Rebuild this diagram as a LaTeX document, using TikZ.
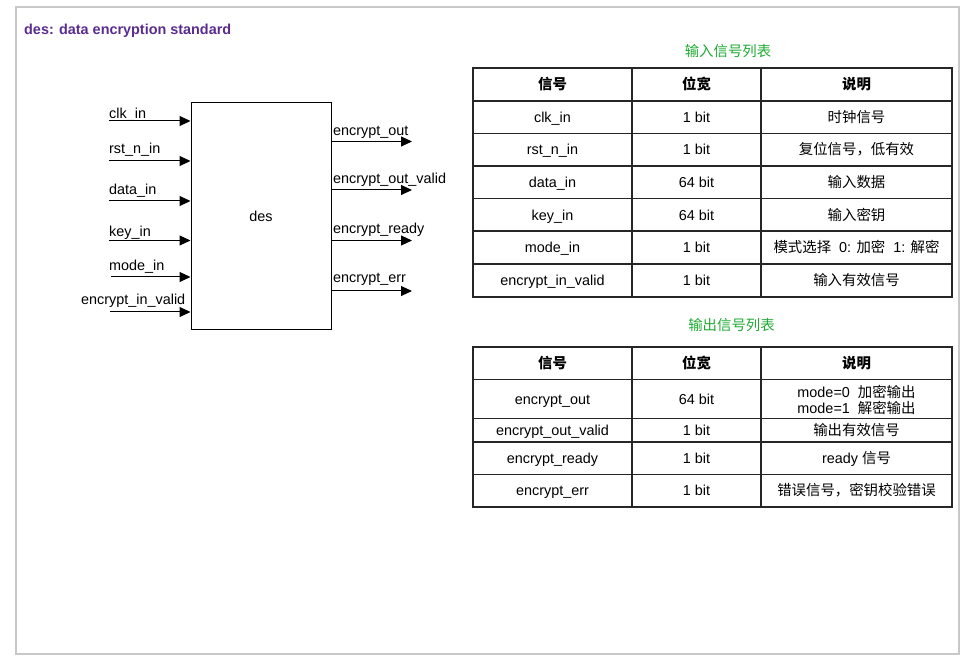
\documentclass[tikz,border=0pt]{standalone}
\usepackage{fontspec}
\setmainfont{Liberation Sans}
\newfontfamily\cjk{Noto Sans CJK SC}
\usetikzlibrary{arrows.meta}
\definecolor{titlepurple}{RGB}{91,44,143}
\definecolor{tgreen}{RGB}{30,170,50}
\definecolor{framegray}{RGB}{200,200,200}
\newcommand{\zh}[1]{{\cjk #1}}
\tikzset{
  basetxt/.style={font=\fontsize{14.4}{16.3}\selectfont, inner sep=0pt},
  txt/.style={basetxt, text height=13.3pt, text depth=3pt},
  sig/.style={line width=1pt, -{Triangle[length=11pt,width=10pt]}},
  lbl/.style={txt, anchor=west},
  cell/.style={txt, align=center},
  twoline/.style={basetxt, align=center},
  grid/.style={line width=1.2pt, black!85},
  blockbox/.style={draw, line width=1pt, minimum width=140pt, minimum height=227pt, txt},
}
\begin{document}
\begin{tikzpicture}[x=1pt,y=-1pt]
\useasboundingbox (0,0) rectangle (975,668);
\draw[framegray, line width=1.2pt] (16,7) rectangle (959,654);
\node[txt, anchor=west, font=\fontsize{14.4}{16}\selectfont\bfseries, text=titlepurple] (title) at (24,29.5) {des: data encryption standard};

% block
\node[blockbox] (des) at (261,216.5) {des};

% inputs
\coordinate (i1) at (109,121);
\coordinate (i2) at (109,161);
\coordinate (i3) at (109,201);
\coordinate (i4) at (109,240.5);
\coordinate (i5) at (111,277);
\coordinate (i6) at (110,312);
\foreach \c in {i1,i2,i3,i4,i5,i6} \draw[sig] (\c) -- (\c -| des.west);
\node[lbl] (l1) at (109,113) {clk\_in};
\node[lbl] (l2) at (109,148.5) {rst\_n\_in};
\node[lbl] (l3) at (109,189) {data\_in};
\node[lbl] (l4) at (109,231.5) {key\_in};
\node[lbl] (l5) at (109,265) {mode\_in};
\node[lbl] (l6) at (81,299) {encrypt\_in\_valid};

% outputs
\coordinate (o1) at (412,141.5);
\coordinate (o2) at (412,190);
\coordinate (o3) at (412,240.5);
\coordinate (o4) at (412,291);
\foreach \c in {o1,o2,o3,o4} \draw[sig] (\c -| des.east) -- (\c);
\node[lbl] (m1) at (333,130) {encrypt\_out};
\node[lbl] (m2) at (333,178) {encrypt\_out\_valid};
\node[lbl] (m3) at (333,228) {encrypt\_ready};
\node[lbl] (m4) at (333,277.5) {encrypt\_err};

% input table
\node[txt, text=tgreen] (t1) at (728,51) {\zh{输入信号列表}};
\draw[grid] (473,68) rectangle (952,297);
\foreach \x in {632,761} \draw[grid] (\x,68) -- (\x,297);
\foreach \y in {101,133.5,166,198.5,231,264} \draw[grid] (473,\y) -- (952,\y);
\node[cell] (a0) at (552.5,84.5) {\cjk\bfseries 信号};
\node[cell] (b0) at (696.5,84.5) {\cjk\bfseries 位宽};
\node[cell] (c0) at (856.5,84.5) {\cjk\bfseries 说明};
\node[cell] (a1) at (552.5,117) {clk\_in};
\node[cell] (b1) at (696.5,117) {1 bit};
\node[cell] (c1) at (856.5,117) {\zh{时钟信号}};
\node[cell] (a2) at (552.5,149.5) {rst\_n\_in};
\node[cell] (b2) at (696.5,149.5) {1 bit};
\node[cell] (c2) at (856.5,149.5) {\zh{复位信号，低有效}};
\node[cell] (a3) at (552.5,182) {data\_in};
\node[cell] (b3) at (696.5,182) {64 bit};
\node[cell] (c3) at (856.5,182) {\zh{输入数据}};
\node[cell] (a4) at (552.5,215) {key\_in};
\node[cell] (b4) at (696.5,215) {64 bit};
\node[cell] (c4) at (856.5,215) {\zh{输入密钥}};
\node[cell] (a5) at (552.5,247.5) {mode\_in};
\node[cell] (b5) at (696.5,247.5) {1 bit};
\node[cell] (c5) at (856.5,247.5) {\zh{模式选择}\ \ 0: \zh{加密}\ \ 1: \zh{解密}};
\node[cell] (a6) at (552.5,280.5) {encrypt\_in\_valid};
\node[cell] (b6) at (696.5,280.5) {1 bit};
\node[cell] (c6) at (856.5,280.5) {\zh{输入有效信号}};

% output table
\node[txt, text=tgreen] (t2) at (731.5,325) {\zh{输出信号列表}};
\draw[grid] (473,347) rectangle (952,507);
\foreach \x in {632,761} \draw[grid] (\x,347) -- (\x,507);
\foreach \y in {379.5,418.5,442,474.5} \draw[grid] (473,\y) -- (952,\y);
\node[cell] (d0) at (552.5,363) {\cjk\bfseries 信号};
\node[cell] (e0) at (696.5,363) {\cjk\bfseries 位宽};
\node[cell] (f0) at (856.5,363) {\cjk\bfseries 说明};
\node[cell] (d1) at (552.5,399) {encrypt\_out};
\node[cell] (e1) at (696.5,399) {64 bit};
\node[twoline] (f1) at (856.5,400) {mode=0\ \ \zh{加密输出}\\mode=1\ \ \zh{解密输出}};
\node[cell] (d2) at (552.5,430) {encrypt\_out\_valid};
\node[cell] (e2) at (696.5,430) {1 bit};
\node[cell] (f2) at (856.5,430) {\zh{输出有效信号}};
\node[cell] (d3) at (552.5,458) {encrypt\_ready};
\node[cell] (e3) at (696.5,458) {1 bit};
\node[cell] (f3) at (856.5,458) {ready \zh{信号}};
\node[cell] (d4) at (552.5,490.5) {encrypt\_err};
\node[cell] (e4) at (696.5,490.5) {1 bit};
\node[cell] (f4) at (856.5,490.5) {\zh{错误信号，密钥校验错误}};
\end{tikzpicture}
\end{document}
